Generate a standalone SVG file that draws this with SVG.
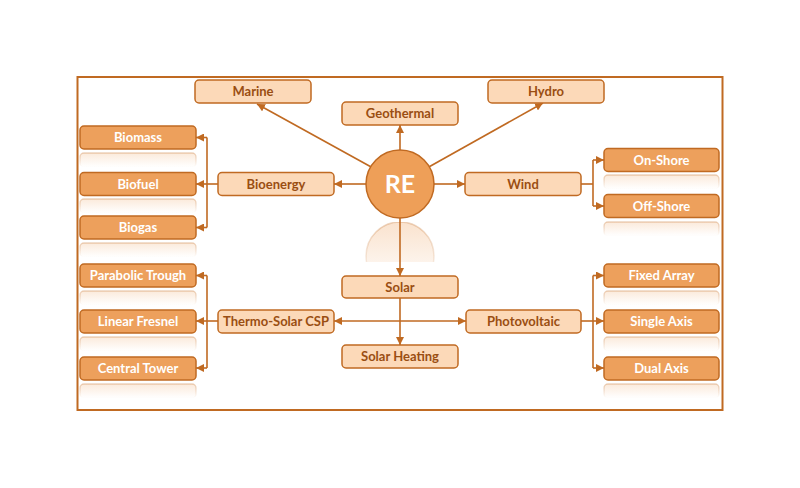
<svg xmlns="http://www.w3.org/2000/svg" width="800" height="488" viewBox="0 0 800 488">
<style>
.lt{fill:#FCD9B8;stroke:#C06A22;stroke-width:1.5}
.dk{fill:#EDA05C;stroke:#C06A22;stroke-width:1.5}
.tl{font-family:Lato,"Open Sans",sans-serif;font-weight:bold;font-size:13px;fill:#9A4E12;text-anchor:middle}
.td{font-family:Lato,"Open Sans",sans-serif;font-weight:bold;font-size:13px;fill:#FFFFFF;text-anchor:middle}
.ln{fill:none;stroke:#C06A22;stroke-width:1.6}
.rf{fill:url(#rg);stroke:url(#rs);stroke-width:1.5}
</style>
<defs>
<marker id="ah" viewBox="0 0 10 10" refX="10" refY="5" markerWidth="8" markerHeight="8" markerUnits="userSpaceOnUse" orient="auto">
<path d="M0,0 L10,5 L0,10 Z" fill="#C06A22"/>
</marker>
<linearGradient id="rg" x1="0" y1="0" x2="0" y2="1">
<stop offset="0" stop-color="#EDA05C" stop-opacity="0.22"/>
<stop offset="1" stop-color="#EDA05C" stop-opacity="0"/>
</linearGradient>
<linearGradient id="rs" x1="0" y1="0" x2="0" y2="1">
<stop offset="0" stop-color="#C06A22" stop-opacity="0.3"/>
<stop offset="1" stop-color="#C06A22" stop-opacity="0"/>
</linearGradient>
<linearGradient id="cg" x1="0" y1="0" x2="0" y2="1">
<stop offset="0" stop-color="#EDA05C" stop-opacity="0.3"/>
<stop offset="1" stop-color="#EDA05C" stop-opacity="0"/>
</linearGradient>
<linearGradient id="cs" x1="0" y1="0" x2="0" y2="1">
<stop offset="0" stop-color="#C06A22" stop-opacity="0.3"/>
<stop offset="1" stop-color="#C06A22" stop-opacity="0"/>
</linearGradient>
<clipPath id="cc"><rect x="360" y="222" width="80" height="40"/></clipPath>
</defs>
<rect x="0" y="0" width="800" height="488" fill="#FFFFFF"/>
<rect id="frame" x="77.5" y="77" width="645" height="333" fill="none" stroke="#C06A22" stroke-width="2"/>

<g id="reflections">
<rect class="rf" x="80" y="153" width="116" height="14" rx="4"/>
<rect class="rf" x="80" y="199" width="116" height="14" rx="4"/>
<rect class="rf" x="80" y="243" width="116" height="14" rx="4"/>
<rect class="rf" x="80" y="291" width="116" height="14" rx="4"/>
<rect class="rf" x="80" y="337" width="116" height="14" rx="4"/>
<rect class="rf" x="80" y="384" width="116" height="14" rx="4"/>
<rect class="rf" x="604" y="175" width="115" height="14" rx="4"/>
<rect class="rf" x="604" y="222" width="115" height="14" rx="4"/>
<rect class="rf" x="604" y="291" width="115" height="14" rx="4"/>
<rect class="rf" x="604" y="337" width="115" height="14" rx="4"/>
<rect class="rf" x="604" y="384" width="115" height="14" rx="4"/>
<circle cx="400" cy="256" r="34" fill="url(#cg)" stroke="url(#cs)" stroke-width="1.5" clip-path="url(#cc)"/>
</g>

<g id="connectors">
<line class="ln" x1="373" y1="168" x2="257" y2="104" marker-end="url(#ah)"/>
<line class="ln" x1="427" y1="168" x2="543" y2="103" marker-end="url(#ah)"/>
<line class="ln" x1="400" y1="150" x2="400" y2="125" marker-end="url(#ah)"/>
<line class="ln" x1="366" y1="184" x2="334" y2="184" marker-end="url(#ah)"/>
<line class="ln" x1="434" y1="184" x2="465" y2="184" marker-end="url(#ah)"/>
<line class="ln" x1="400" y1="218" x2="400" y2="276" marker-end="url(#ah)"/>
<line class="ln" x1="400" y1="298" x2="400" y2="345" marker-end="url(#ah)"/>
<line class="ln" x1="400" y1="321" x2="334" y2="321" marker-end="url(#ah)"/>
<line class="ln" x1="400" y1="321" x2="466" y2="321" marker-end="url(#ah)"/>
<line class="ln" x1="218" y1="184" x2="207" y2="184"/>
<line class="ln" x1="207" y1="137.5" x2="207" y2="227.5"/>
<line class="ln" x1="207" y1="137.5" x2="196" y2="137.5" marker-end="url(#ah)"/>
<line class="ln" x1="207" y1="184" x2="196" y2="184" marker-end="url(#ah)"/>
<line class="ln" x1="207" y1="227.5" x2="196" y2="227.5" marker-end="url(#ah)"/>
<line class="ln" x1="218" y1="321" x2="207" y2="321"/>
<line class="ln" x1="207" y1="275.5" x2="207" y2="368"/>
<line class="ln" x1="207" y1="275.5" x2="196" y2="275.5" marker-end="url(#ah)"/>
<line class="ln" x1="207" y1="321" x2="196" y2="321" marker-end="url(#ah)"/>
<line class="ln" x1="207" y1="368" x2="196" y2="368" marker-end="url(#ah)"/>
<line class="ln" x1="581" y1="184" x2="593" y2="184"/>
<line class="ln" x1="593" y1="160" x2="593" y2="206"/>
<line class="ln" x1="593" y1="160" x2="604" y2="160" marker-end="url(#ah)"/>
<line class="ln" x1="593" y1="206" x2="604" y2="206" marker-end="url(#ah)"/>
<line class="ln" x1="581" y1="321" x2="593" y2="321"/>
<line class="ln" x1="593" y1="275.5" x2="593" y2="368"/>
<line class="ln" x1="593" y1="275.5" x2="604" y2="275.5" marker-end="url(#ah)"/>
<line class="ln" x1="593" y1="321" x2="604" y2="321" marker-end="url(#ah)"/>
<line class="ln" x1="593" y1="368" x2="604" y2="368" marker-end="url(#ah)"/>
</g>

<g id="node-re"><circle cx="400" cy="184" r="34" fill="#EE9F58" stroke="#C06A22" stroke-width="1.5"/><text x="400" y="193" font-family="Lato,'Open Sans',sans-serif" font-weight="bold" font-size="25" fill="#FFFFFF" text-anchor="middle">RE</text></g>

<g id="node-marine"><rect class="lt" x="195" y="80" width="116" height="23" rx="4"/><text class="tl" x="253" y="96">Marine</text></g>
<g id="node-geothermal"><rect class="lt" x="342" y="102" width="116" height="23" rx="4"/><text class="tl" x="400" y="118">Geothermal</text></g>
<g id="node-hydro"><rect class="lt" x="488" y="80" width="116" height="23" rx="4"/><text class="tl" x="546" y="96">Hydro</text></g>
<g id="node-bioenergy"><rect class="lt" x="218" y="172.5" width="116" height="23" rx="4"/><text class="tl" x="276" y="188.5">Bioenergy</text></g>
<g id="node-wind"><rect class="lt" x="465" y="172.5" width="116" height="23" rx="4"/><text class="tl" x="523" y="188.5">Wind</text></g>
<g id="node-solar"><rect class="lt" x="342" y="276" width="116" height="22" rx="4"/><text class="tl" x="400" y="291.5">Solar</text></g>
<g id="node-solarheating"><rect class="lt" x="342" y="345" width="116" height="23" rx="4"/><text class="tl" x="400" y="361">Solar Heating</text></g>
<g id="node-thermosolar"><rect class="lt" x="218" y="310" width="116" height="23" rx="4"/><text class="tl" x="276" y="326">Thermo-Solar CSP</text></g>
<g id="node-photovoltaic"><rect class="lt" x="466" y="310" width="115" height="23" rx="4"/><text class="tl" x="523.5" y="326">Photovoltaic</text></g>

<g id="node-biomass"><rect class="dk" x="80" y="126" width="116" height="23" rx="4"/><text class="td" x="138" y="142">Biomass</text></g>
<g id="node-biofuel"><rect class="dk" x="80" y="172.5" width="116" height="23" rx="4"/><text class="td" x="138" y="188.5">Biofuel</text></g>
<g id="node-biogas"><rect class="dk" x="80" y="216" width="116" height="23" rx="4"/><text class="td" x="138" y="232">Biogas</text></g>
<g id="node-parabolic"><rect class="dk" x="80" y="264" width="116" height="23" rx="4"/><text class="td" x="138" y="280">Parabolic Trough</text></g>
<g id="node-fresnel"><rect class="dk" x="80" y="310" width="116" height="23" rx="4"/><text class="td" x="138" y="326">Linear Fresnel</text></g>
<g id="node-tower"><rect class="dk" x="80" y="357" width="116" height="23" rx="4"/><text class="td" x="138" y="373">Central Tower</text></g>
<g id="node-onshore"><rect class="dk" x="604" y="148.5" width="115" height="23" rx="4"/><text class="td" x="661.5" y="164.5">On-Shore</text></g>
<g id="node-offshore"><rect class="dk" x="604" y="194.5" width="115" height="23" rx="4"/><text class="td" x="661.5" y="210.5">Off-Shore</text></g>
<g id="node-fixed"><rect class="dk" x="604" y="264" width="115" height="23" rx="4"/><text class="td" x="661.5" y="280">Fixed Array</text></g>
<g id="node-single"><rect class="dk" x="604" y="310" width="115" height="23" rx="4"/><text class="td" x="661.5" y="326">Single Axis</text></g>
<g id="node-dual"><rect class="dk" x="604" y="357" width="115" height="23" rx="4"/><text class="td" x="661.5" y="373">Dual Axis</text></g>
</svg>
